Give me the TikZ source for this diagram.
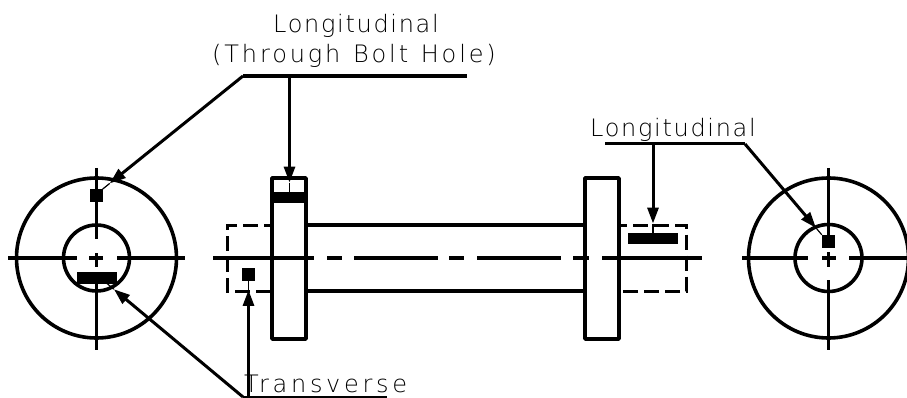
\documentclass[tikz,border=0pt]{standalone}
\usepackage{fontspec}
\newfontfamily\cadfont[LetterSpace=7, WordSpace=1.4]{DejaVu Sans ExtraLight}
\newfontfamily\cadwide[LetterSpace=12, WordSpace=1.2]{DejaVu Sans ExtraLight}
\newfontfamily\cadwider[LetterSpace=15.5]{DejaVu Sans ExtraLight}
\usetikzlibrary{arrows.meta, calc}
\tikzset{
    cadline/.style={line width=3.6pt},
    hidden/.style={line width=3pt, dash pattern=on 15pt off 6pt, dash phase=7pt},
    leader/.style={line width=3pt},
    thinend/.style={line width=1.2pt},
    block/.style={fill=black, inner sep=0pt},
    lbl/.style={font=\cadfont\fontsize{24}{26}\selectfont, inner sep=0pt, anchor=base west}
}
\begin{document}
\begin{tikzpicture}[x=1pt, y=-1pt]
    \useasboundingbox (0,0) rectangle (907,398);

    % Wheels
    \draw[cadline] (96.5,258) circle (80);
    \draw[cadline] (96.5,258) circle (33);
    \draw[cadline] (828.5,258) circle (80);
    \draw[cadline] (828.5,258) circle (33.5);

    % Wheel centre lines
    \foreach \a/\b in {8/77, 89/103, 117/185} \draw[cadline] (\a,258) -- (\b,258);
    \foreach \a/\b in {168/239, 253/267, 277/350} \draw[cadline] (96.5,\a) -- (96.5,\b);
    \foreach \a/\b in {742/808, 822/836, 849/907} \draw[cadline] (\a,258) -- (\b,258);
    \foreach \a/\b in {168/235, 252/267, 280/350} \draw[cadline] (828.5,\a) -- (828.5,\b);

    % Axle
    \draw[line width=4.4pt] (306,225) -- (585,225);
    \draw[line width=3.2pt] (306,291) -- (585,291);
    \draw[hidden] (272,225) -- (227,225) -- (227,291) -- (272,291);
    \draw[hidden] (619,225) -- (686.5,225) -- (686.5,291) -- (619,291);

    % Flanges
    \draw[cadline, line join=round] (272,178) rectangle (306,339);
    \draw[cadline, line join=round] (585,178) rectangle (619,339);

    % Axle centre line
    \foreach \a/\b in {213/314, 327/342, 354/438, 449/464, 477/561, 573/589, 602/702}
        \draw[cadline] (\a,258) -- (\b,258);

    % Test blocks
    \node[block, minimum width=13pt, minimum height=12.5pt] (holeA) at (96,195.5) {};
    \node[block, minimum width=40pt, minimum height=12pt] (barA) at (96.5,277.5) {};
    \node[block, minimum width=13.5pt, minimum height=12.5pt] (holeB) at (248.5,274.5) {};
    \node[block, minimum width=34pt, minimum height=11.5pt] (barB) at (289.5,197.5) {};
    \node[block, minimum width=50pt, minimum height=11.5pt] (barC) at (653,238.5) {};
    \node[block, minimum width=13pt, minimum height=13pt] (holeC) at (828.5,241.5) {};

    % Labels
    \node[lbl] (lblTop) at (273,33) {Longitudinal};
    \node[lbl, font=\cadwide\fontsize{24}{26}\selectfont] (lblBolt) at (212,63) {(Through Bolt Hole)};
    \node[lbl] (lblRight) at (590,137) {Longitudinal};
    \node[lbl, font=\cadwider\fontsize{24}{26}\selectfont] (lblTrans) at (244,392) {Transverse};

    % Leader shelves
    \coordinate (topBend) at (243,76);
    \coordinate (topEnd) at (467,76);
    \coordinate (topDrop) at (barB.north |- topBend);
    \coordinate (rightStart) at (605,144);
    \coordinate (rightBend) at (745,144);
    \coordinate (rightDrop) at (barC.north |- rightBend);
    \coordinate (transBend) at (243,397);
    \coordinate (transEnd) at (387,397);
    \coordinate (transDrop) at (holeB.south |- transBend);
    \coordinate (barHit) at (107,283.5);

    \draw[line width=3.8pt] (topBend) -- (topEnd);
    \draw[leader] (rightStart) -- (rightBend);
    \draw[line width=1.6pt] (transBend) -- (transEnd);

    % Arrows with a thin end
    \foreach \src/\dst in {topBend/holeA.north east, topDrop/barB.north, rightDrop/barC.north,
                           rightBend/holeC.north west, transBend/barHit, transDrop/holeB.south} {
        \draw[leader, -{Triangle[length=16pt, width=11pt]}] (\src) -- ($(\dst)!9pt!(\src)$);
        \draw[thinend] ($(\dst)!9pt!(\src)$) -- (\dst);
    }
\end{tikzpicture}
\end{document}
